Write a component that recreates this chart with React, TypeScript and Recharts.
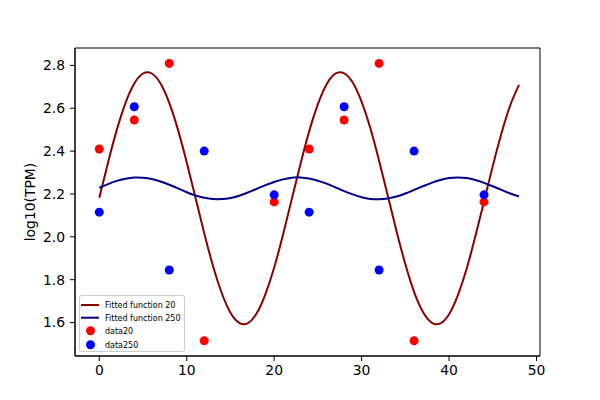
import React from 'react';
import { ComposedChart, Line, Scatter, XAxis, YAxis, ReferenceArea } from 'recharts';

const times = [0, 4, 8, 12, 20, 24, 28, 32, 36, 44];
const data20 = [2.41, 2.545, 2.809, 1.515, 2.163, 2.41, 2.545, 2.809, 1.515, 2.163];
const data250 = [2.115, 2.607, 1.845, 2.4, 2.196, 2.115, 2.607, 1.845, 2.4, 2.196];

const fitX = [
  0, 1, 2, 3, 4, 5, 6, 7, 8, 9, 10, 11, 12, 13, 14, 15, 16, 17, 18, 19, 20, 21, 22, 23, 24,
  25, 26, 27, 28, 29, 30, 31, 32, 33, 34, 35, 36, 37, 38, 39, 40, 41, 42, 43, 44, 45, 46, 47, 48,
];
const fit20 = [
  2.182, 2.347, 2.499, 2.625, 2.715, 2.762, 2.762, 2.715, 2.625, 2.499, 2.347, 2.182, 2.017, 1.864,
  1.738, 1.646, 1.599, 1.597, 1.643, 1.733, 1.857, 2.009, 2.174, 2.339, 2.492, 2.619, 2.712, 2.761,
  2.763, 2.719, 2.63, 2.507, 2.355, 2.191, 2.025, 1.872, 1.743, 1.65, 1.6, 1.596, 1.639, 1.727,
  1.85, 2.001, 2.165, 2.331, 2.484, 2.614, 2.709,
];
const fit250 = [
  2.229, 2.246, 2.261, 2.271, 2.277, 2.276, 2.27, 2.258, 2.243, 2.226, 2.208, 2.193, 2.182, 2.176,
  2.176, 2.181, 2.192, 2.207, 2.224, 2.241, 2.256, 2.268, 2.276, 2.277, 2.272, 2.262, 2.248, 2.231,
  2.213, 2.198, 2.185, 2.177, 2.175, 2.179, 2.188, 2.202, 2.219, 2.236, 2.252, 2.265, 2.274, 2.277,
  2.274, 2.265, 2.252, 2.236, 2.219, 2.202, 2.188,
];

const xTicks = [0, 10, 20, 30, 40, 50];
const yTicks = [1.6, 1.8, 2.0, 2.2, 2.4, 2.6, 2.8];

const X_DOMAIN: [number, number] = [-2.78, 50.4];
const Y_DOMAIN: [number, number] = [1.444, 2.881];

const C20 = '#8b0000';
const C250 = '#00008b';

const line20 = fitX.map((x, i) => ({ x, y: fit20[i] }));
const line250 = fitX.map((x, i) => ({ x, y: fit250[i] }));
const pts20 = times.map((x, i) => ({ x, y: data20[i] }));
const pts250 = times.map((x, i) => ({ x, y: data250[i] }));

const FONT = 'DejaVu Sans';

const legendItems = [
  { name: 'Fitted function 20', color: C20, kind: 'line' },
  { name: 'Fitted function 250', color: C250, kind: 'line' },
  { name: 'data20', color: '#ff0000', kind: 'dot' },
  { name: 'data250', color: '#0000ff', kind: 'dot' },
];
const rowY = [10, 22.7, 35.7, 49.7];

const LegendBox = () => (
  <svg width={107} height={58} style={{ display: 'block' }}>
    <rect x={0.5} y={0.5} width={105} height={56} rx={2} fill="#fff" fillOpacity={0.8} stroke="#cccccc" strokeWidth={1} />
    {legendItems.map((it, i) => (
      <g key={it.name}>
        {it.kind === 'line' ? (
          <line x1={2} x2={20} y1={rowY[i]} y2={rowY[i]} stroke={it.color} strokeWidth={2} />
        ) : (
          <circle cx={11.5} cy={rowY[i]} r={4.5} fill={it.color} />
        )}
        <text x={26} y={rowY[i]} dy="0.35em" fontSize={8} fontFamily={FONT} fill="#000">
          {it.name}
        </text>
      </g>
    ))}
  </svg>
);

export default function App() {
  return (
    <div style={{ position: 'absolute', left: 0, top: 0, width: 600, height: 400, background: '#fff' }}>
      <ComposedChart width={600} height={400} margin={{ top: 48, right: 60, bottom: 0, left: 0 }}>
        <XAxis
          dataKey="x"
          type="number"
          domain={X_DOMAIN}
          ticks={xTicks}
          allowDataOverflow
          height={44}
          tickSize={5}
          tickMargin={4}
          stroke="#000"
          tick={{ fill: '#000', fontSize: 13.9, fontFamily: FONT }}
          axisLine={{ stroke: '#000', strokeWidth: 1 }}
          tickLine={{ stroke: '#000', strokeWidth: 1 }}
        />
        <YAxis
          type="number"
          domain={Y_DOMAIN}
          ticks={yTicks}
          allowDataOverflow
          width={75}
          tickSize={5}
          tickMargin={5}
          tickFormatter={(v: number) => v.toFixed(1)}
          tick={{ fill: '#000', fontSize: 13.9, fontFamily: FONT }}
          axisLine={{ stroke: '#000', strokeWidth: 1 }}
          tickLine={{ stroke: '#000', strokeWidth: 1 }}
          label={{ value: 'log10(TPM)', angle: -90, position: 'center', dx: -7, fontSize: 13.9, fontFamily: FONT, fill: '#000' }}
        />
        <ReferenceArea
          x1={X_DOMAIN[0]}
          x2={X_DOMAIN[1]}
          y1={Y_DOMAIN[0]}
          y2={Y_DOMAIN[1]}
          fill="none"
          fillOpacity={0}
          stroke="#000"
          strokeWidth={1}
          ifOverflow="visible"
        />
        <Line data={line20} dataKey="y" type="natural" stroke={C20} strokeWidth={2} dot={false} isAnimationActive={false} name="Fitted function 20" />
        <Line data={line250} dataKey="y" type="natural" stroke={C250} strokeWidth={2} dot={false} isAnimationActive={false} name="Fitted function 250" />
        <Scatter data={pts20} dataKey="y" fill="#ff0000" isAnimationActive={false} name="data20" />
        <Scatter data={pts250} dataKey="y" fill="#0000ff" isAnimationActive={false} name="data250" />
      </ComposedChart>
      <div style={{ position: 'absolute', left: 79, top: 295 }}>
        <LegendBox />
      </div>
    </div>
  );
}
